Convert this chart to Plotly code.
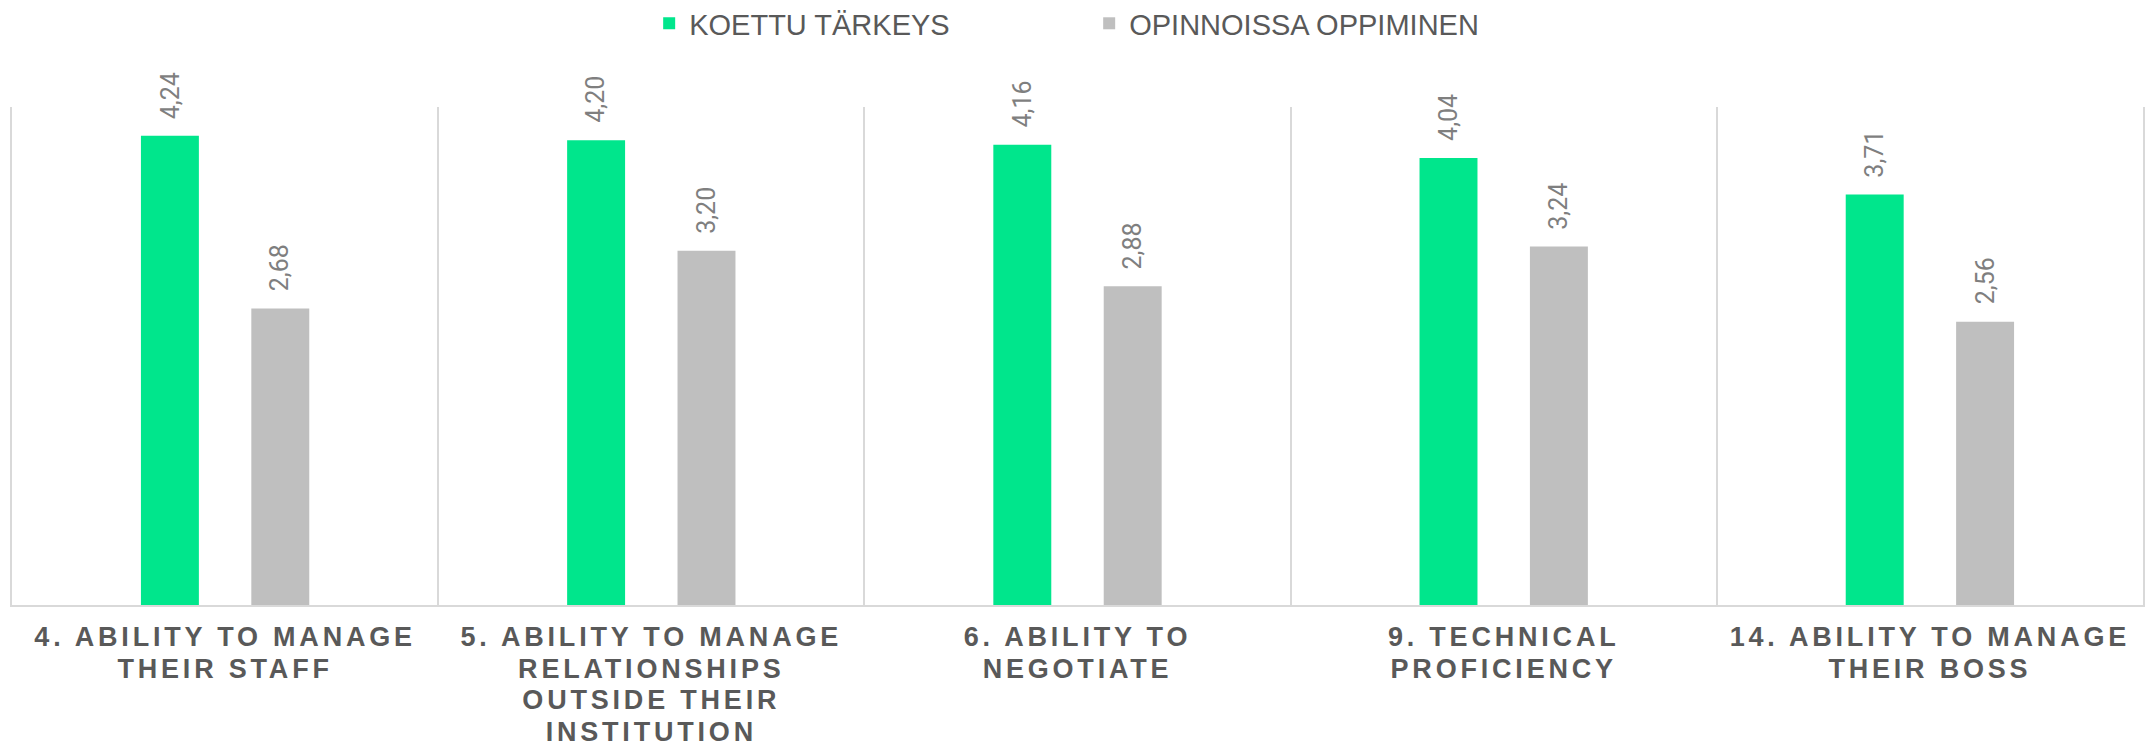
import plotly.graph_objects as go

categories = [
    "4. ABILITY TO MANAGE<br>THEIR STAFF",
    "5. ABILITY TO MANAGE<br>RELATIONSHIPS<br>OUTSIDE THEIR<br>INSTITUTION",
    "6. ABILITY TO<br>NEGOTIATE",
    "9. TECHNICAL<br>PROFICIENCY",
    "14. ABILITY TO MANAGE<br>THEIR BOSS",
]
koettu_tarkeys = [4.24, 4.20, 4.16, 4.04, 3.71]
opinnoissa_oppiminen = [2.68, 3.20, 2.88, 3.24, 2.56]
series_names = ["KOETTU TÄRKEYS", "OPINNOISSA OPPIMINEN"]
series_colors = ["#00E68C", "#BFBFBF"]

BARGAP = 0.482
BARGROUPGAP = 0.475

fig = go.Figure()
for name, vals, col in zip(series_names, [koettu_tarkeys, opinnoissa_oppiminen], series_colors):
    fig.add_trace(go.Bar(x=categories, y=vals, name=name, marker_color=col,
                         marker_line_width=0))

def fmt(v):
    return f"{v:.2f}".replace(".", ",")

slot = (1 - BARGAP) / 2
offsets = [-slot / 2, slot / 2]
for k, vals in enumerate([koettu_tarkeys, opinnoissa_oppiminen]):
    for i, v in enumerate(vals):
        fig.add_annotation(x=i + offsets[k], y=v, text=fmt(v), textangle=-90,
                           showarrow=False, xanchor="center", yanchor="bottom",
                           yshift=15,
                           font=dict(family="Roboto", size=25, color="#7F7F7F"))

fig.update_layout(
    template="none",
    width=2145, height=749,
    margin=dict(l=12, r=2, t=107, b=144, autoexpand=False),
    paper_bgcolor="white", plot_bgcolor="white",
    barmode="group", bargap=BARGAP, bargroupgap=BARGROUPGAP,
    showlegend=True,
    legend=dict(orientation="h", x=0.299, xanchor="left", y=1.219, yanchor="top",
                font=dict(family="Liberation Sans", size=29, color="#595959"),
                entrywidth=395, entrywidthmode="pixels", traceorder="normal",
                bgcolor="rgba(0,0,0,0)"),
    xaxis=dict(type="category", tickson="boundaries", showgrid=True, automargin=False,
               gridcolor="#D9D9D9", gridwidth=1.5, showline=True, linecolor="#D9D9D9",
               linewidth=1.5, ticks="", ticklabelstandoff=7, zeroline=False,
               tickfont=dict(family="Liberation Sans", size=27, color="#595959",
                             weight="bold")),
    yaxis=dict(range=[0, 4.5], showticklabels=False, showgrid=False, zeroline=False,
               automargin=False,
               showline=True, mirror=True, linecolor="#D9D9D9", linewidth=1.5),
)

post = """
document.body.style.margin='0';
document.querySelectorAll('.xtick text').forEach(function(t){
  t.style.letterSpacing='3.8px';
  t.querySelectorAll('tspan.line').forEach(function(s){
    var dy = s.getAttribute('dy');
    if (dy && dy.indexOf('em') > 0) {
      var v = parseFloat(dy);
      s.setAttribute('dy', (v * 1.17 / 1.3) + 'em');
    }
  });
});
"""
fig.write_html("out.html", post_script=post, config={"displayModeBar": False})
